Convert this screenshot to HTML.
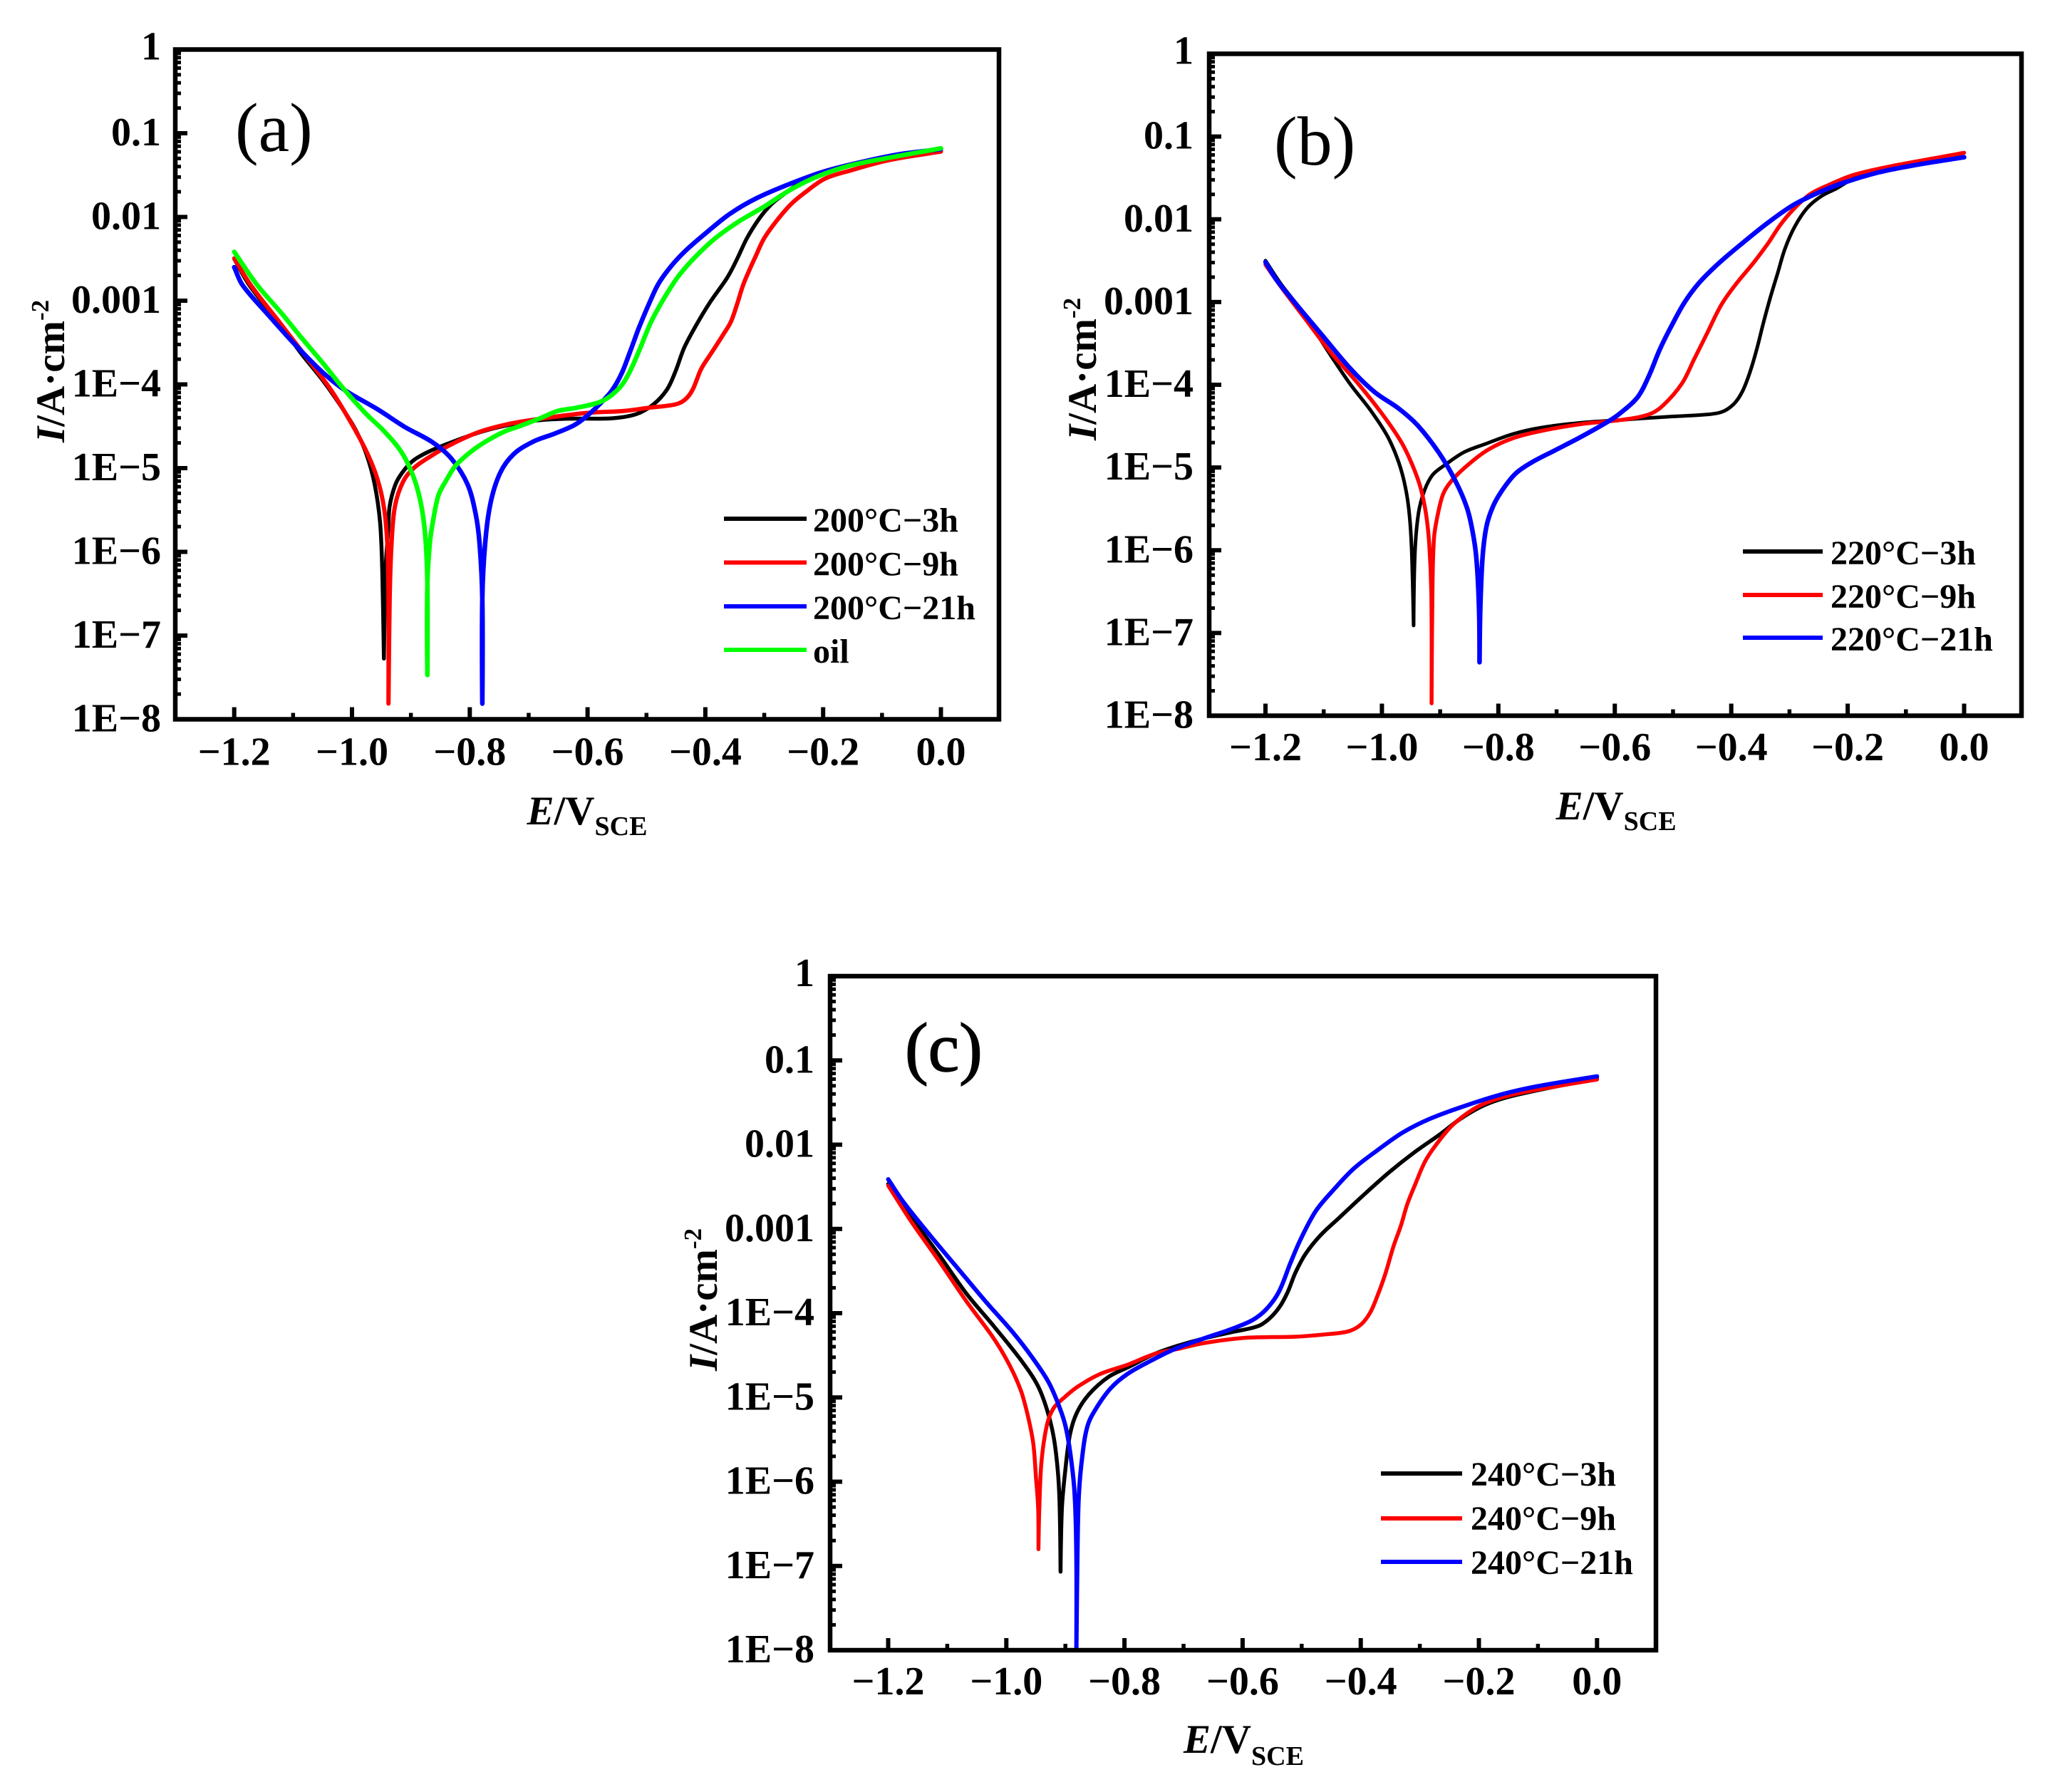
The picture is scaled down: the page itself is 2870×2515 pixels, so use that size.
<!DOCTYPE html>
<html lang="en">
<head>
<meta charset="utf-8">
<title>Polarization curves of oil-aged samples</title>
<style>
html,body{margin:0;padding:0;background:#fff;}
svg{display:block;}
text{font-family:"Liberation Serif",serif;font-weight:bold;fill:#000;}
.tick{font-size:56px;}
.leg{font-size:48px;}
.title{font-size:57px;}
.sub{font-size:38px;}
.sup{font-size:35px;}
.panel{font-size:98px;font-weight:normal;}
.ll{stroke-width:6;fill:none;}
</style>
</head>
<body>
<svg id="figure" xmlns="http://www.w3.org/2000/svg" width="2870" height="2515" viewBox="0 0 2870 2515">
<rect x="0" y="0" width="2870" height="2515" fill="#fff"/>

<g id="chart-a">
  <text class="panel" x="330" y="212">(a)</text>
  <text class="title" x="739.5" y="1157"><tspan font-style="italic">E</tspan>/V<tspan class="sub" y="1172">SCE</tspan></text>
  <text class="title" transform="translate(90,621) rotate(-90)"><tspan font-style="italic">I</tspan>/A·cm<tspan class="sup" dy="-22">-2</tspan></text>
  <g>
    <line class="ll" x1="1016" x2="1132" y1="728" y2="728" stroke="#000"/>
    <text class="leg" x="1141" y="746">200°C−3h</text>
    <line class="ll" x1="1016" x2="1132" y1="789.5" y2="789.5" stroke="#f00"/>
    <text class="leg" x="1141" y="807.5">200°C−9h</text>
    <line class="ll" x1="1016" x2="1132" y1="851" y2="851" stroke="#00f"/>
    <text class="leg" x="1141" y="869">200°C−21h</text>
    <line class="ll" x1="1016" x2="1132" y1="912" y2="912" stroke="#0f0"/>
    <text class="leg" x="1141" y="930">oil</text>
  </g>
</g>

<g id="chart-b">
  <text class="panel" x="1788" y="231">(b)</text>
  <text class="title" x="2183.6" y="1150"><tspan font-style="italic">E</tspan>/V<tspan class="sub" y="1165">SCE</tspan></text>
  <text class="title" transform="translate(1538,618) rotate(-90)"><tspan font-style="italic">I</tspan>/A·cm<tspan class="sup" dy="-22">-2</tspan></text>
  <g>
    <line class="ll" x1="2446" x2="2558" y1="774" y2="774" stroke="#000"/>
    <text class="leg" x="2569" y="792">220°C−3h</text>
    <line class="ll" x1="2446" x2="2558" y1="835" y2="835" stroke="#f00"/>
    <text class="leg" x="2569" y="853">220°C−9h</text>
    <line class="ll" x1="2446" x2="2558" y1="895" y2="895" stroke="#00f"/>
    <text class="leg" x="2569" y="913">220°C−21h</text>
  </g>
</g>

<g id="chart-c">
  <text class="panel" x="1270" y="1503" stroke="#000" stroke-width="1.5">(c)</text>
  <text class="title" x="1661" y="2460"><tspan font-style="italic">E</tspan>/V<tspan class="sub" y="2477">SCE</tspan></text>
  <text class="title" transform="translate(1006,1924) rotate(-90)"><tspan font-style="italic">I</tspan>/A·cm<tspan class="sup" dy="-22">-2</tspan></text>
  <g>
    <line class="ll" x1="1938" x2="2052" y1="2068" y2="2068" stroke="#000"/>
    <text class="leg" x="2064" y="2085">240°C−3h</text>
    <line class="ll" x1="1938" x2="2052" y1="2131" y2="2131" stroke="#f00"/>
    <text class="leg" x="2064" y="2147">240°C−9h</text>
    <line class="ll" x1="1938" x2="2052" y1="2192" y2="2192" stroke="#00f"/>
    <text class="leg" x="2064" y="2209">240°C−21h</text>
  </g>
</g>
</svg>

<script>
// Shared axis data
const xTickValues = [-1.2, -1.0, -0.8, -0.6, -0.4, -0.2, 0.0];
const xTickLabels = ["−1.2", "−1.0", "−0.8", "−0.6", "−0.4", "−0.2", "0.0"];
const xMinorValues = [-1.1, -0.9, -0.7, -0.5, -0.3, -0.1];
const yTickLogs = [0, -1, -2, -3, -4, -5, -6, -7, -8];
const yTickLabels = ["1", "0.1", "0.01", "0.001", "1E−4", "1E−5", "1E−6", "1E−7", "1E−8"];
const yMinorFactors = [2, 3, 4, 5, 6, 7, 8, 9];

// Panel (a): potential (V) and log10 current density
const a3hE = [-1.2,-1.1745,-1.1236,-1.0866,-1.0495,-1.017,-0.994,-0.9755,-0.9616,-0.9523,-0.9486,-0.9458,-0.943,-0.9384,-0.936,-0.9269,-0.9153,-0.8968,-0.8736,-0.8412,-0.7903,-0.7486,-0.6884,-0.6329,-0.559,-0.5173,-0.4881,-0.4652,-0.4506,-0.436,-0.4173,-0.3923,-0.3631,-0.3465,-0.3298,-0.309,-0.2881,-0.2673,-0.2465,-0.1965,-0.13,0];
const a3hLog = [-2.5,-2.813,-3.269,-3.627,-3.953,-4.279,-4.54,-4.833,-5.19,-5.647,-6.233,-7.275,-6.233,-5.712,-5.452,-5.207,-5.06,-4.914,-4.816,-4.718,-4.588,-4.507,-4.432,-4.409,-4.405,-4.355,-4.238,-4.062,-3.842,-3.564,-3.314,-3.021,-2.728,-2.508,-2.26,-2.025,-1.849,-1.732,-1.629,-1.468,-1.351,-1.21];

const a9hE = [-1.2,-1.172,-1.1236,-1.0773,-1.0356,-1.003,-0.9755,-0.957,-0.9454,-0.9398,-0.938,-0.938,-0.936,-0.9329,-0.9269,-0.913,-0.8944,-0.8644,-0.832,-0.7856,-0.7347,-0.6792,-0.6144,-0.5881,-0.5381,-0.4923,-0.4506,-0.434,-0.4215,-0.4069,-0.3881,-0.3694,-0.3569,-0.3465,-0.336,-0.3256,-0.3152,-0.3006,-0.2798,-0.2548,-0.2298,-0.1965,-0.1506,-0.088,0];
const a9hLog = [-2.495,-2.813,-3.253,-3.676,-4.067,-4.441,-4.8,-5.126,-5.484,-5.94,-6.559,-7.813,-6.559,-5.907,-5.452,-5.158,-4.995,-4.849,-4.718,-4.572,-4.474,-4.409,-4.35,-4.334,-4.317,-4.276,-4.238,-4.179,-4.062,-3.813,-3.607,-3.402,-3.256,-3.051,-2.816,-2.64,-2.479,-2.26,-2.054,-1.849,-1.702,-1.541,-1.439,-1.321,-1.219];

const a21hE = [-1.2,-1.186,-1.142,-1.096,-1.05,-1.0125,-0.957,-0.9106,-0.8644,-0.832,-0.804,-0.79,-0.7833,-0.7787,-0.7787,-0.7787,-0.774,-0.7648,-0.7486,-0.7255,-0.693,-0.656,-0.6236,-0.6048,-0.5798,-0.559,-0.5423,-0.5277,-0.5131,-0.4965,-0.4798,-0.459,-0.434,-0.4006,-0.359,-0.3131,-0.2548,-0.1965,-0.13,-0.0673,0];
const a21hLog = [-2.6,-2.813,-3.171,-3.53,-3.855,-4.067,-4.295,-4.507,-4.686,-4.881,-5.191,-5.549,-5.907,-6.559,-7.813,-6.559,-5.907,-5.419,-5.06,-4.833,-4.686,-4.588,-4.49,-4.399,-4.238,-4.076,-3.871,-3.607,-3.329,-3.051,-2.801,-2.596,-2.406,-2.201,-1.966,-1.776,-1.6,-1.453,-1.336,-1.248,-1.19];

const aOilE = [-1.2,-1.161,-1.119,-1.087,-1.05,-1.0125,-0.975,-0.948,-0.92,-0.904,-0.89,-0.8806,-0.8745,-0.872,-0.872,-0.872,-0.868,-0.862,-0.853,-0.841,-0.825,-0.806,-0.781,-0.744,-0.712,-0.679,-0.651,-0.619,-0.5756,-0.5465,-0.53,-0.513,-0.4923,-0.4694,-0.4465,-0.4173,-0.384,-0.3465,-0.3006,-0.2548,-0.2131,-0.159,-0.088,0];
const aOilLog = [-2.417,-2.813,-3.155,-3.432,-3.741,-4.067,-4.36,-4.54,-4.767,-4.963,-5.22,-5.517,-5.907,-6.396,-7.471,-6.396,-5.907,-5.614,-5.32,-5.158,-4.979,-4.849,-4.718,-4.572,-4.49,-4.4,-4.318,-4.279,-4.2,-4.047,-3.871,-3.607,-3.256,-2.963,-2.714,-2.479,-2.26,-2.069,-1.878,-1.673,-1.527,-1.395,-1.292,-1.18];

// Panel (b)
const b3hE = [-1.2,-1.1727,-1.1352,-1.0931,-1.0556,-1.0181,-0.99,-0.9713,-0.9596,-0.9526,-0.9488,-0.9456,-0.9432,-0.9371,-0.9268,-0.9128,-0.8917,-0.8589,-0.8214,-0.7745,-0.7277,-0.6576,-0.5873,-0.5545,-0.5057,-0.4509,-0.4171,-0.3961,-0.3813,-0.3687,-0.3561,-0.3455,-0.3329,-0.3202,-0.3076,-0.2907,-0.2696,-0.2443,-0.2191,-0.1895,-0.1263,0];
const b3hLog = [-2.5,-2.789,-3.13,-3.589,-3.981,-4.322,-4.628,-4.935,-5.241,-5.582,-6.025,-6.91,-6.025,-5.548,-5.275,-5.088,-4.969,-4.815,-4.713,-4.594,-4.519,-4.458,-4.424,-4.407,-4.385,-4.364,-4.331,-4.236,-4.088,-3.866,-3.569,-3.272,-2.946,-2.65,-2.353,-2.086,-1.864,-1.716,-1.627,-1.508,-1.375,-1.197];

const b9hE = [-1.2,-1.1727,-1.1305,-1.0884,-1.0415,-0.9993,-0.9665,-0.9478,-0.9338,-0.9245,-0.9188,-0.9151,-0.9147,-0.9133,-0.9105,-0.9035,-0.8941,-0.8777,-0.8496,-0.8168,-0.7745,-0.7277,-0.6576,-0.5873,-0.5404,-0.5171,-0.4846,-0.4635,-0.4424,-0.4171,-0.3919,-0.3623,-0.3371,-0.316,-0.2949,-0.2654,-0.2317,-0.1895,-0.1263,0];
const b9hLog = [-2.55,-2.823,-3.215,-3.606,-3.981,-4.356,-4.696,-4.969,-5.241,-5.548,-5.922,-6.535,-7.85,-6.535,-5.854,-5.548,-5.309,-5.139,-4.952,-4.781,-4.645,-4.56,-4.475,-4.424,-4.356,-4.25,-3.984,-3.688,-3.391,-3.035,-2.783,-2.531,-2.294,-2.071,-1.893,-1.701,-1.582,-1.463,-1.36,-1.197];

const b21hE = [-1.2,-1.1822,-1.1493,-1.1025,-1.0556,-1.0135,-0.9713,-0.9385,-0.9011,-0.873,-0.8543,-0.8448,-0.8378,-0.8332,-0.8323,-0.831,-0.8272,-0.8206,-0.8098,-0.7934,-0.77,-0.7419,-0.7044,-0.6576,-0.6107,-0.59,-0.5605,-0.5415,-0.5225,-0.5014,-0.4804,-0.4551,-0.4214,-0.3792,-0.3371,-0.2949,-0.2528,-0.2106,-0.1474,-0.0842,0];
const b21hLog = [-2.516,-2.721,-3.01,-3.402,-3.794,-4.083,-4.287,-4.492,-4.832,-5.173,-5.48,-5.752,-6.093,-6.706,-7.353,-6.706,-6.093,-5.718,-5.48,-5.275,-5.071,-4.935,-4.798,-4.628,-4.441,-4.34,-4.147,-3.895,-3.569,-3.272,-3.006,-2.768,-2.531,-2.279,-2.042,-1.834,-1.686,-1.567,-1.434,-1.345,-1.25];

// Panel (c)
const c3hE = [-1.2,-1.1598,-1.1137,-1.0675,-1.0213,-0.9752,-0.9475,-0.9313,-0.9198,-0.9128,-0.9096,-0.9082,-0.9059,-0.9004,-0.8921,-0.8805,-0.8597,-0.8274,-0.7905,-0.7489,-0.712,-0.6658,-0.6197,-0.5735,-0.5539,-0.5367,-0.5237,-0.5108,-0.4936,-0.4677,-0.4376,-0.3945,-0.3514,-0.3083,-0.2652,-0.2308,-0.1877,-0.136,0];
const c3hLog = [-2.466,-2.87,-3.31,-3.768,-4.153,-4.557,-4.85,-5.143,-5.473,-5.877,-6.317,-7.068,-6.317,-5.877,-5.437,-5.18,-4.96,-4.758,-4.63,-4.483,-4.391,-4.3,-4.227,-4.153,-4.059,-3.918,-3.749,-3.523,-3.298,-3.072,-2.875,-2.593,-2.325,-2.086,-1.874,-1.691,-1.522,-1.409,-1.212];

const c9hE = [-1.2,-1.1598,-1.1137,-1.0675,-1.0213,-0.9936,-0.9752,-0.9636,-0.9544,-0.9498,-0.9461,-0.9456,-0.9442,-0.9405,-0.9313,-0.9198,-0.9013,-0.8782,-0.8413,-0.7951,-0.7489,-0.712,-0.6658,-0.5966,-0.5108,-0.4591,-0.4203,-0.3988,-0.3837,-0.3708,-0.3579,-0.3449,-0.332,-0.3212,-0.3083,-0.2911,-0.2695,-0.2437,-0.2092,-0.1791,-0.136,-0.0714,0];
const c9hLog = [-2.485,-2.925,-3.383,-3.86,-4.3,-4.63,-4.923,-5.217,-5.546,-5.95,-6.317,-6.801,-6.317,-5.767,-5.327,-5.125,-4.997,-4.868,-4.722,-4.612,-4.483,-4.428,-4.355,-4.293,-4.279,-4.251,-4.214,-4.129,-3.989,-3.777,-3.523,-3.213,-2.96,-2.706,-2.48,-2.199,-1.973,-1.762,-1.578,-1.48,-1.395,-1.311,-1.226];

const c21hE = [-1.2,-1.1737,-1.1275,-1.0813,-1.0352,-0.989,-0.9567,-0.929,-0.9105,-0.899,-0.8897,-0.8842,-0.8814,-0.8814,-0.8796,-0.8773,-0.8713,-0.862,-0.8459,-0.8228,-0.7951,-0.7582,-0.712,-0.6658,-0.6197,-0.5827,-0.5596,-0.5388,-0.5194,-0.5022,-0.4763,-0.4462,-0.4117,-0.3729,-0.3299,-0.2825,-0.2221,-0.1575,-0.0929,0];
const c21hLog = [-2.411,-2.686,-3.09,-3.475,-3.86,-4.227,-4.52,-4.813,-5.107,-5.363,-5.767,-6.17,-6.867,-8.0,-6.867,-6.17,-5.693,-5.327,-5.107,-4.887,-4.722,-4.575,-4.417,-4.3,-4.19,-4.08,-3.951,-3.75,-3.411,-3.129,-2.79,-2.537,-2.283,-2.072,-1.86,-1.691,-1.536,-1.395,-1.296,-1.189];

const SVGNS = "http://www.w3.org/2000/svg";

// Smooth path through points: tangent follows neighbours, handle length is a third of each
// segment. The tip of a corrosion-potential dip (a large vertical reversal) keeps a zero tangent,
// so it stays sharp and never loops.
function smoothPath(pts) {
  const last = pts.length - 1;
  const tan = pts.map((p, i) => {
    const a = pts[Math.max(i - 1, 0)], b = pts[Math.min(i + 1, last)];
    const up = p[1] - a[1], down = b[1] - p[1];
    if (up > 15 && down < -15) return [0, 0];
    const dx = b[0] - a[0], dy = b[1] - a[1], len = Math.hypot(dx, dy);
    return len < 0.5 ? [0, 0] : [dx / len, dy / len];
  });
  let d = "M" + pts[0][0].toFixed(1) + " " + pts[0][1].toFixed(1);
  for (let i = 1; i < pts.length; i++) {
    const p = pts[i - 1], q = pts[i], h = Math.hypot(q[0] - p[0], q[1] - p[1]) / 3;
    d += "C" + (p[0] + tan[i - 1][0] * h).toFixed(1) + " " + (p[1] + tan[i - 1][1] * h).toFixed(1) + " " +
         (q[0] - tan[i][0] * h).toFixed(1) + " " + (q[1] - tan[i][1] * h).toFixed(1) + " " +
         q[0].toFixed(1) + " " + q[1].toFixed(1);
  }
  return d;
}

function drawPanel(id, box, series) {
  const root = document.getElementById(id);
  const xScale = v => box.xAtMinus12 + (v + 1.2) * (box.xAtZero - box.xAtMinus12) / 1.2;
  const yScale = lg => box.yAtOne + (-lg) * (box.yAtMin - box.yAtOne) / 8;

  series.forEach(s => {
    const path = document.createElementNS(SVGNS, "path");
    const pts = s.e.map((v, i) => [xScale(v), yScale(s.log[i])]);
    path.setAttribute("d", smoothPath(pts));
    path.setAttribute("fill", "none");
    path.setAttribute("stroke", s.color);
    path.setAttribute("stroke-width", s.width);
    path.setAttribute("stroke-linejoin", "round");
    path.setAttribute("stroke-linecap", "round");
    
    
    root.appendChild(path);
  });

  const frame = document.createElementNS(SVGNS, "rect");
  frame.setAttribute("x", box.left);
  frame.setAttribute("y", box.top);
  frame.setAttribute("width", box.right - box.left);
  frame.setAttribute("height", box.bottom - box.top);
  frame.setAttribute("fill", "none");
  frame.setAttribute("stroke", "#000");
  frame.setAttribute("stroke-width", "6.5");
  
  
  root.appendChild(frame);

  function tick(x1, y1, x2, y2, width) {
    const ln = document.createElementNS(SVGNS, "line");
    ln.setAttribute("x1", x1);
    ln.setAttribute("y1", y1);
    ln.setAttribute("x2", x2);
    ln.setAttribute("y2", y2);
    ln.setAttribute("stroke", "#000");
    ln.setAttribute("stroke-width", width);
    
    
    root.appendChild(ln);
  }

  xTickValues.forEach((v, i) => {
    const x = xScale(v);
    tick(x, box.bottom, x, box.bottom - 17, 6);
    const t = document.createElementNS(SVGNS, "text");
    t.setAttribute("x", x);
    t.setAttribute("y", box.xLabelY);
    t.setAttribute("text-anchor", "middle");
    t.setAttribute("class", "tick");
    
    
    t.textContent = xTickLabels[i];
    root.appendChild(t);
  });
  xMinorValues.forEach(v => {
    const x = xScale(v);
    tick(x, box.bottom, x, box.bottom - 9, 5.5);
  });

  yTickLogs.forEach((lg, i) => {
    const y = yScale(lg);
    if (i > 0 && i < yTickLogs.length - 1) tick(box.left, y, box.left + 17, y, 6);
    const t = document.createElementNS(SVGNS, "text");
    t.setAttribute("x", box.yLabelX);
    t.setAttribute("y", y + (i === 0 ? 14 : 17));
    t.setAttribute("text-anchor", "end");
    t.setAttribute("class", "tick");
    
    
    t.textContent = yTickLabels[i];
    root.appendChild(t);
    if (i < yTickLogs.length - 1) {
      yMinorFactors.forEach(f => {
        const ym = yScale(lg - 1 + Math.log10(f));
        tick(box.left, ym, box.left + 8, ym, 5);
      });
    }
  });
}

drawPanel("chart-a",
  {left:246, right:1402, top:69.5, bottom:1009.5, xAtMinus12:328.7, xAtZero:1320.5, yAtOne:69.5, yAtMin:1009.5, xLabelY:1073.5, yLabelX:226},
  [
    {name:"curve-200c-3h", color:"#000", width:5.5, e:a3hE, log:a3hLog},
    {name:"curve-200c-9h", color:"#f00", width:6, e:a9hE, log:a9hLog},
    {name:"curve-200c-21h", color:"#00f", width:6.5, e:a21hE, log:a21hLog},
    {name:"curve-oil", color:"#0f0", width:6.5, e:aOilE, log:aOilLog}
  ]);

drawPanel("chart-b",
  {left:1697, right:2837, top:75.5, bottom:1004.5, xAtMinus12:1776, xAtZero:2756.5, yAtOne:75.5, yAtMin:1004.5, xLabelY:1067, yLabelX:1675},
  [
    {name:"curve-220c-3h", color:"#000", width:5, e:b3hE, log:b3hLog},
    {name:"curve-220c-9h", color:"#f00", width:5.5, e:b9hE, log:b9hLog},
    {name:"curve-220c-21h", color:"#00f", width:6.5, e:b21hE, log:b21hLog}
  ]);

drawPanel("chart-c",
  {left:1165, right:2324, top:1370, bottom:2316, xAtMinus12:1246.5, xAtZero:2241.3, yAtOne:1370, yAtMin:2316, xLabelY:2378, yLabelX:1143},
  [
    {name:"curve-240c-3h", color:"#000", width:5.5, e:c3hE, log:c3hLog},
    {name:"curve-240c-9h", color:"#f00", width:5.5, e:c9hE, log:c9hLog},
    {name:"curve-240c-21h", color:"#00f", width:6, e:c21hE, log:c21hLog}
  ]);
</script>
</body>
</html>
